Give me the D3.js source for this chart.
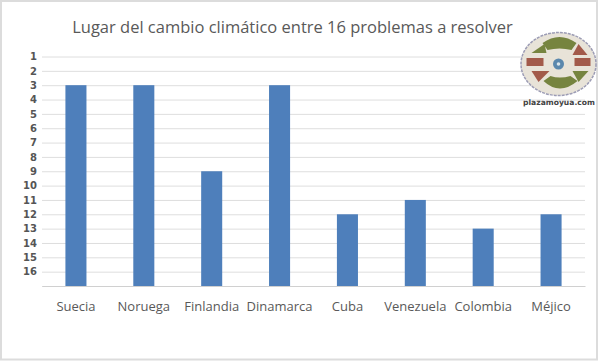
<!DOCTYPE html>
<html>
<head>
<meta charset="utf-8">
<script src="https://cdn.jsdelivr.net/npm/d3@7"></script>
<style>
  html, body { margin: 0; padding: 0; background: #fff; }
  svg { display: block; }
</style>
</head>
<body>
<div id="chart"></div>
<script>
var titleText = "Lugar del cambio climático entre 16 problemas a resolver";
var paises = ["Suecia", "Noruega", "Finlandia", "Dinamarca", "Cuba", "Venezuela", "Colombia", "Méjico"];
var lugares = [3, 3, 9, 3, 12, 11, 13, 12];
var ticks = d3.range(1, 18);
var tickLabels = ["1","2","3","4","5","6","7","8","9","10","11","12","13","14","15","16",""];

var outerWidth = 600, outerHeight = 361;
var margin = {top: 56.5, right: 15, bottom: 75, left: 42};
var width = outerWidth - margin.left - margin.right;
var height = outerHeight - margin.top - margin.bottom;

var svg = d3.select("#chart").append("svg")
    .attr("width", outerWidth)
    .attr("height", outerHeight);

// outer frame
svg.append("rect")
    .attr("x", 1).attr("y", 1)
    .attr("width", 596).attr("height", 358.5)
    .attr("fill", "#fff")
    .attr("stroke", "#dcdcdc")
    .attr("stroke-width", 2);

svg.append("text")
    .attr("x", 292.5).attr("y", 33)
    .attr("text-anchor", "middle")
    .attr("font-family", "'Open Sans', sans-serif")
    .attr("font-size", 16.5)
    .attr("fill", "#595959")
    .text(titleText);

var g = svg.append("g")
    .attr("transform", "translate(" + margin.left + "," + margin.top + ")");

var xScale = d3.scaleBand().domain(paises).range([0, width])
    .paddingInner(0.69).paddingOuter(0.345);
var yScale = d3.scaleLinear().domain([1, 17]).range([0, height]);

// grid + y labels (rank axis reads top to bottom)
var yAxis = d3.axisLeft(yScale)
    .tickValues(ticks)
    .tickFormat(function(d, i) { return tickLabels[i]; })
    .tickSize(-width)
    .tickPadding(5);
var yAxisDOM = g.append("g").call(yAxis);
yAxisDOM.select(".domain").remove();
yAxisDOM.selectAll("line").attr("stroke", "#dedede");
yAxisDOM.selectAll("text")
    .attr("font-family", "'DejaVu Sans', sans-serif")
    .attr("font-size", 10)
    .attr("font-weight", "bold")
    .attr("fill", "#555");

// bars hang from the top rank down to the base line
g.selectAll(".bar")
    .data(lugares)
    .enter().append("rect")
    .attr("class", "bar")
    .attr("x", function(d, i) { return xScale(paises[i]); })
    .attr("y", function(d) { return yScale(d); })
    .attr("width", xScale.bandwidth())
    .attr("height", function(d) { return height - yScale(d); })
    .attr("fill", "#4e7fbb");

var xAxis = d3.axisBottom(xScale).tickSize(0).tickPadding(16);
var xAxisDOM = g.append("g")
    .attr("transform", "translate(0," + height + ")")
    .call(xAxis);
xAxisDOM.select(".domain").attr("stroke", "#d0d0d0");
xAxisDOM.selectAll("text")
    .attr("font-family", "'Open Sans', sans-serif")
    .attr("font-size", 13)
    .attr("fill", "#595959");

// logo
var logo = svg.append("g").attr("transform", "translate(558.5,64)");
logo.append("ellipse")
    .attr("rx", 37.5).attr("ry", 31.5)
    .attr("fill", "#e8e3d8")
    .attr("stroke", "#9c9cb4")
    .attr("stroke-width", 1.5)
    .attr("stroke-dasharray", "3 1");
var piezas = [
  {p: "M-16,-21 Q1,-33 18,-21 L13,-14 Q1,-17 -11,-14 Z", c: "#76843f"},
  {p: "M-15,17 Q1,32 19,17 L12,12 Q1,15 -8,12 Z", c: "#76843f"},
  {p: "M-32,-6 L-15,-6 L-15,2 L-32,2 Z", c: "#a25a4a"},
  {p: "M16,-6 L32,-6 L32,2 L16,2 Z", c: "#a25a4a"},
  {p: "M-27,-11 L-14,-20 L-12,-11 Z", c: "#76843f"},
  {p: "M14,-9 L20,-20 L29,-9 Z", c: "#a25a4a"},
  {p: "M-27,7 L-9,7 L-20,18 Z", c: "#a25a4a"},
  {p: "M14,7 L30,7 L20,18 Z", c: "#76843f"}
];
logo.selectAll("path").data(piezas).enter().append("path")
    .attr("d", function(d) { return d.p; })
    .attr("fill", function(d) { return d.c; });
logo.append("circle").attr("r", 5.5).attr("fill", "#5b88ad");
logo.append("circle").attr("r", 1.8).attr("fill", "#d8e4ea");

svg.append("text")
    .attr("x", 559).attr("y", 105)
    .attr("text-anchor", "middle")
    .attr("font-family", "'DejaVu Sans', sans-serif")
    .attr("font-size", 7.6)
    .attr("font-weight", "bold")
    .attr("fill", "#444")
    .text("plazamoyua.com");
</script>
</body>
</html>
